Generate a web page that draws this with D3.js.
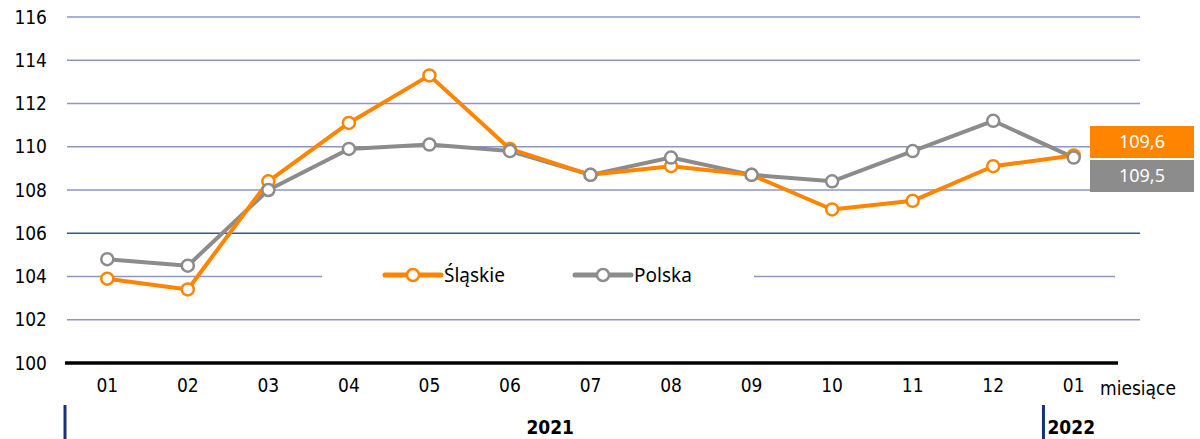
<!DOCTYPE html>
<html>
<head>
<meta charset="utf-8">
<script src="https://cdn.jsdelivr.net/npm/d3@7"></script>
<style>
  body { margin: 0; background: #fff; }
</style>
</head>
<body>
<div id="canvas"></div>
<script>
"use strict"

let drawingWidth = 1200;
let drawingHeight = 439;

// data
let months = ["01", "02", "03", "04", "05", "06", "07", "08", "09", "10", "11", "12", "01 "];
let slaskie = [103.9, 103.4, 108.4, 111.1, 113.3, 109.9, 108.7, 109.1, 108.7, 107.1, 107.5, 109.1, 109.6];
let polska = [104.8, 104.5, 108.0, 109.9, 110.1, 109.8, 108.7, 109.5, 108.7, 108.4, 109.8, 111.2, 109.5];
let yTicks = [100, 102, 104, 106, 108, 110, 112, 114, 116];
let seriesNames = ["Śląskie", "Polska"];
let seriesColors = ["#ff8500", "#8c8c8c"];
let years = [{ label: "2021", from: 0, to: 11 }, { label: "2022", from: 12, to: 12 }];

let tickFont = "'Liberation Sans Narrow', 'DejaVu Sans Condensed', sans-serif";
let textFont = "'Noto Sans', 'Open Sans', sans-serif";

let drawing = d3.select("#canvas")
    .append("svg")
    .attr("width", drawingWidth)
    .attr("height", drawingHeight);

let x = d3.scaleBand()
    .domain(months)
    .range([67, 1114]);

let y = d3.scaleLinear()
    .domain([100, 116])
    .range([363, 17]);

let cx = (i) => x(months[i]) + x.bandwidth() / 2;

// grid lines
let grid = drawing.append("g");
yTicks.filter(t => t > 100).forEach(t => {
    if (t === 104) {
        grid.append("line")
            .attr("x1", 67).attr("x2", 322)
            .attr("y1", y(t)).attr("y2", y(t))
            .attr("stroke", "#8a98c4").attr("stroke-width", 1.3);
        grid.append("line")
            .attr("x1", 754).attr("x2", 1115)
            .attr("y1", y(t)).attr("y2", y(t))
            .attr("stroke", "#8a98c4").attr("stroke-width", 1.3);
    } else {
        grid.append("line")
            .attr("x1", 67).attr("x2", 1140)
            .attr("y1", y(t)).attr("y2", y(t))
            .attr("stroke", t === 106 ? "#3b529a" : "#8a98c4")
            .attr("stroke-width", 1.3);
    }
});

// y axis labels
let yAxis = drawing.append("g")
    .attr("transform", "translate(47,0)")
    .call(d3.axisLeft(y).tickValues(yTicks).tickSize(0).tickPadding(0));
yAxis.select(".domain").remove();
yAxis.selectAll("text")
    .attr("font-family", tickFont)
    .attr("font-size", 19)
    .attr("fill", "#000");

// baseline
drawing.append("line")
    .attr("x1", 65).attr("x2", 1118)
    .attr("y1", y(100)).attr("y2", y(100))
    .attr("stroke", "#000")
    .attr("stroke-width", 3.5);

// x axis labels
let xAxis = drawing.append("g")
    .attr("transform", "translate(0,378)")
    .call(d3.axisBottom(x).tickSize(0).tickPadding(0));
xAxis.select(".domain").remove();
xAxis.selectAll("text")
    .attr("font-family", tickFont)
    .attr("font-size", 19)
    .attr("fill", "#000");

drawing.append("text")
    .attr("x", 1100).attr("y", 395)
    .attr("font-family", tickFont)
    .attr("font-size", 19)
    .text("miesiące");

// year rows
years.forEach(yr => {
    let left = x(months[yr.from]);
    let right = x(months[yr.to]) + x.bandwidth();
    let sep = yr.label === "2022" ? left + 10 : left - 2;
    drawing.append("line")
        .attr("x1", sep).attr("x2", sep)
        .attr("y1", 405).attr("y2", 439)
        .attr("stroke", "#1a2f80").attr("stroke-width", 3);
    drawing.append("text")
        .attr("x", yr.label === "2022" ? sep + 4 : (left + right) / 2)
        .attr("y", 434)
        .attr("text-anchor", yr.label === "2022" ? "start" : "middle")
        .attr("font-family", tickFont)
        .attr("font-weight", "bold")
        .attr("font-size", 19)
        .text(yr.label);
});

// series
let line = d3.line()
    .x((d, i) => cx(i))
    .y(d => y(d));

[polska, slaskie].forEach((vals, k) => {
    let color = k === 0 ? seriesColors[1] : seriesColors[0];
    drawing.append("path")
        .datum(vals)
        .attr("d", line)
        .attr("fill", "none")
        .attr("stroke", color)
        .attr("stroke-width", 4)
        .attr("stroke-linejoin", "round");
});

[slaskie, polska].forEach((vals, k) => {
    drawing.append("g").selectAll("circle")
        .data(vals)
        .join("circle")
        .attr("cx", (d, i) => cx(i))
        .attr("cy", d => y(d))
        .attr("r", 6)
        .attr("fill", "#fff")
        .attr("stroke", seriesColors[k])
        .attr("stroke-width", 2.5);
});

// legend
let legendX = [385, 575];
seriesNames.forEach((name, k) => {
    let g = drawing.append("g").attr("transform", `translate(${legendX[k]},275)`);
    g.append("line")
        .attr("x1", 0).attr("x2", 56)
        .attr("stroke", seriesColors[k])
        .attr("stroke-width", 5)
        .attr("stroke-linecap", "round");
    g.append("circle")
        .attr("cx", 28).attr("r", 6)
        .attr("fill", "#fff")
        .attr("stroke", seriesColors[k])
        .attr("stroke-width", 2.5);
    g.append("text")
        .attr("x", 59).attr("y", 7)
        .attr("font-family", textFont)
        .attr("font-size", 19)
        .text(name);
});

// end value labels
let last = months.length - 1;
[slaskie[last], polska[last]].forEach((v, k) => {
    let top = k === 0 ? 126 : 160;
    drawing.append("rect")
        .attr("x", 1090).attr("y", top)
        .attr("width", 104).attr("height", 32)
        .attr("fill", seriesColors[k]);
    drawing.append("text")
        .attr("x", 1142).attr("y", top + 22)
        .attr("text-anchor", "middle")
        .attr("font-family", textFont)
        .attr("font-size", 18)
        .attr("fill", "#fff")
        .text(d3.format(".1f")(v).replace(".", ","));
});
</script>
</body>
</html>
